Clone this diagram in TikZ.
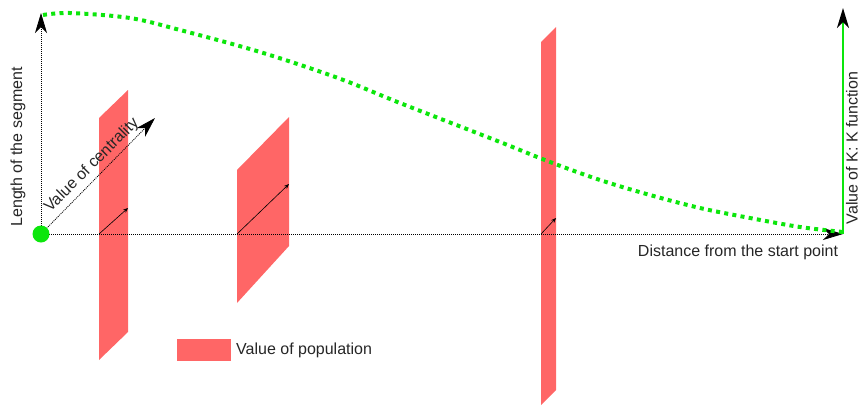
\documentclass[tikz,border=0pt]{standalone}
\usepackage{fontspec}
\setmainfont{Liberation Sans}
\usetikzlibrary{arrows.meta}
\definecolor{panelred}{RGB}{255,102,102}
\definecolor{kgreen}{RGB}{12,230,12}
\begin{document}
\begin{tikzpicture}[x=1pt,y=-1pt,
  axisline/.style={line width=0.8pt, dash pattern=on 1pt off 1pt},
  bigtip/.style={-{Stealth[length=20pt,width=12pt,inset=6pt]}},
  smallarrow/.style={line width=0.6pt,-{Stealth[length=5pt,width=4pt]}},
  panel/.style={fill=panelred},
  curvedots/.style={kgreen, line width=4pt, dash pattern=on 4pt off 4.3pt},
  lbl/.style={font=\fontsize{16}{19}\selectfont, inner sep=0pt, text=black!85}
]
\useasboundingbox (0,0) rectangle (860,405);

% panels
\fill[panel] (99,118) -- (128,90) -- (128,332) -- (99,360) -- cycle;
\fill[panel] (237,170) -- (289,117) -- (289,246) -- (237,303) -- cycle;
\fill[panel] (541,42) -- (556,27) -- (556,390) -- (541,405) -- cycle;

% coordinates
\coordinate (o) at (41,234);
\coordinate (ytip) at (41,13);
\coordinate (xtip) at (843,234);
\coordinate (ctip) at (155,118);
\coordinate (kbase) at (843,234);
\coordinate (ktip) at (843,8);
\coordinate (p1a) at (99,234);  \coordinate (p1b) at (128,208);
\coordinate (p2a) at (237,234); \coordinate (p2b) at (289,184);
\coordinate (p3a) at (541,234); \coordinate (p3b) at (556,218);

% small arrows in panels
\draw[smallarrow] (p1a) -- (p1b);
\draw[smallarrow] (p2a) -- (p2b);
\draw[smallarrow] (p3a) -- (p3b);

% axes
\draw[axisline,bigtip] (o) -- (ytip);
\draw[axisline,bigtip] (o) -- (xtip);
\draw[axisline,bigtip] (o) -- (ctip)
  node[pos=0.52, rotate=45, anchor=south, lbl, inner sep=4pt] {Value of centrality};

% K function axis
\draw[kgreen, line width=2pt, -{Stealth[length=20pt,width=12pt,inset=6pt,black]}] (kbase) -- (ktip);

% green curve
\draw[curvedots] plot[smooth, tension=0.55] coordinates {
  (43,15) (70,13) (130,18) (180,30) (260,52) (338,78) (400,103)
  (500,142) (550,162) (600,180) (650,195) (700,208) (750,218) (800,227) (843,232)};

% start dot
\node[circle, fill=kgreen, minimum size=17pt, inner sep=0pt] (start) at (o) {};

% labels
\node[lbl, rotate=90] (lenlbl) at (18,147) {Length of the segment};
\node[lbl] (distlbl) at (738,252) {Distance from the start point};
\node[lbl, rotate=90] (klbl) at (852,148) {Value of K: K function};

% legend
\fill[panel] (177,339) rectangle (231,361);
\node[lbl, anchor=west] (leglbl) at (236,350) {Value of population};
\end{tikzpicture}
\end{document}
